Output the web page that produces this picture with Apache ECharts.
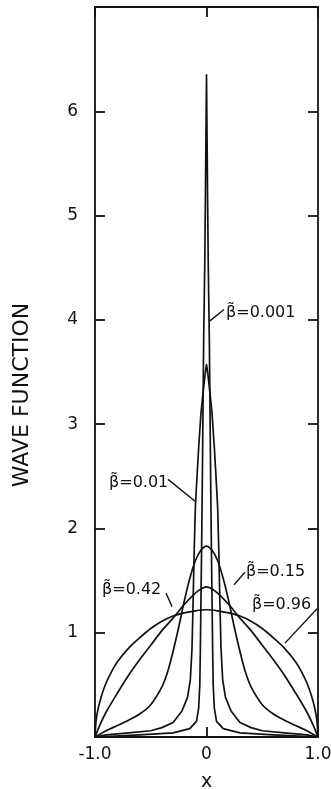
<!DOCTYPE html>
<html>
<head>
<meta charset="utf-8">
<script src="https://cdn.jsdelivr.net/npm/echarts@6/dist/echarts.min.js"></script>
<style>
  html, body { margin: 0; padding: 0; background: #fff; }
  #chart { width: 331px; height: 789px; }
</style>
</head>
<body>
<div id="chart"></div>
<script>
// Axis ticks
const xTickValues = [-1, 0, 1];
const xTickLabels = ['-1.0', '0', '1.0'];
const yTickValues = [1, 2, 3, 4, 5, 6];

// Wave function profiles, one pair of arrays per beta
const beta096X = [-1, -0.99, -0.97, -0.94, -0.9, -0.85, -0.8, -0.7, -0.6, -0.5, -0.4, -0.3, -0.2, -0.1, 0, 0.1, 0.2, 0.3, 0.4, 0.5, 0.6, 0.7, 0.8, 0.85, 0.9, 0.94, 0.97, 0.99, 1];
const beta096Y = [0, 0.16, 0.28, 0.4, 0.52, 0.63, 0.72, 0.85, 0.95, 1.04, 1.11, 1.16, 1.19, 1.21, 1.22, 1.21, 1.19, 1.16, 1.11, 1.04, 0.95, 0.85, 0.72, 0.63, 0.52, 0.4, 0.28, 0.16, 0];

const beta042X = [-1, -0.95, -0.9, -0.8, -0.7, -0.6, -0.5, -0.4, -0.3, -0.2, -0.1, -0.05, 0, 0.05, 0.1, 0.2, 0.3, 0.4, 0.5, 0.6, 0.7, 0.8, 0.9, 0.95, 1];
const beta042Y = [0, 0.13, 0.24, 0.42, 0.59, 0.74, 0.88, 1.02, 1.14, 1.27, 1.38, 1.42, 1.44, 1.42, 1.38, 1.27, 1.14, 1.02, 0.88, 0.74, 0.59, 0.42, 0.24, 0.13, 0];

const beta015X = [-1, -0.9, -0.8, -0.7, -0.6, -0.5, -0.4, -0.35, -0.3, -0.25, -0.2, -0.15, -0.1, -0.05, 0, 0.05, 0.1, 0.15, 0.2, 0.25, 0.3, 0.35, 0.4, 0.5, 0.6, 0.7, 0.8, 0.9, 1];
const beta015Y = [0, 0.06, 0.11, 0.16, 0.22, 0.31, 0.48, 0.62, 0.82, 1.05, 1.3, 1.52, 1.69, 1.79, 1.83, 1.79, 1.69, 1.52, 1.3, 1.05, 0.82, 0.62, 0.48, 0.31, 0.22, 0.16, 0.11, 0.06, 0];

const beta001X = [-1, -0.9, -0.7, -0.5, -0.4, -0.3, -0.22, -0.17, -0.145, -0.13, -0.12, -0.11, -0.1, -0.085, -0.07, -0.05, -0.025, -0.01, 0, 0.01, 0.025, 0.05, 0.07, 0.085, 0.1, 0.11, 0.12, 0.13, 0.145, 0.17, 0.22, 0.3, 0.4, 0.5, 0.7, 0.9, 1];
const beta001Y = [0, 0.02, 0.04, 0.06, 0.09, 0.14, 0.25, 0.38, 0.55, 0.85, 1.3, 1.8, 2.2, 2.5, 2.78, 3.1, 3.36, 3.5, 3.57, 3.5, 3.36, 3.1, 2.78, 2.5, 2.2, 1.8, 1.3, 0.85, 0.55, 0.38, 0.25, 0.14, 0.09, 0.06, 0.04, 0.02, 0];

const beta0001X = [-1, -0.6, -0.3, -0.15, -0.09, -0.07, -0.06, -0.055, -0.05, -0.044, -0.037, -0.03, -0.025, -0.02, -0.015, -0.01, -0.005, 0, 0.005, 0.01, 0.015, 0.02, 0.025, 0.03, 0.037, 0.044, 0.05, 0.055, 0.06, 0.07, 0.09, 0.15, 0.3, 0.6, 1];
const beta0001Y = [0, 0.02, 0.04, 0.08, 0.15, 0.28, 0.5, 0.85, 1.3, 1.8, 2.5, 3.3, 3.85, 4.2, 4.6, 5.15, 5.75, 6.35, 5.75, 5.15, 4.6, 4.2, 3.85, 3.3, 2.5, 1.8, 1.3, 0.85, 0.5, 0.28, 0.15, 0.08, 0.04, 0.02, 0];

const curveNames = ['β̃=0.001', 'β̃=0.01', 'β̃=0.15', 'β̃=0.42', 'β̃=0.96'];
// broad profiles are drawn smooth, the narrow peaks as straight segments
const curveSmooth = [false, false, 0.3, 0.3, 0.3];

const INK = '#111';
const FONT = 'DejaVu Sans';

function pairs(xs, ys) { return xs.map((x, i) => [x, ys[i]]); }

// Where each curve's tag sits and where its leader line runs (data units)
const tags = [
  { text: curveNames[0], at: [0.175, 4.07], lead: [[0.031, 3.99], [0.157, 4.10]] },
  { text: curveNames[1], at: [-0.874, 2.44], lead: [[-0.345, 2.47], [-0.103, 2.26]] },
  { text: curveNames[2], at: [0.354, 1.58], lead: [[0.247, 1.46], [0.345, 1.58]] },
  { text: curveNames[3], at: [-0.937, 1.41], lead: [[-0.363, 1.38], [-0.309, 1.25]] },
  { text: curveNames[4], at: [0.408, 1.27], lead: [[0.704, 0.90], [0.991, 1.23]] }
];

const curves = [
  pairs(beta0001X, beta0001Y),
  pairs(beta001X, beta001Y),
  pairs(beta015X, beta015Y),
  pairs(beta042X, beta042Y),
  pairs(beta096X, beta096Y)
];

const series = curves.map((data, i) => ({
  name: curveNames[i],
  type: 'line',
  data: data,
  showSymbol: false,
  smooth: curveSmooth[i],
  lineStyle: { color: INK, width: 1.7, join: 'round' },
  silent: true,
  markLine: {
    silent: true,
    symbol: ['none', 'none'],
    lineStyle: { color: INK, width: 1.4, type: 'solid' },
    label: { show: false },
    data: [[{ coord: tags[i].lead[0] }, { coord: tags[i].lead[1] }]]
  },
  markPoint: {
    silent: true,
    symbol: 'circle',
    symbolSize: 0,
    data: [{
      coord: tags[i].at,
      label: {
        show: true,
        position: 'right',
        distance: 0,
        formatter: tags[i].text,
        color: INK,
        fontFamily: FONT,
        fontSize: 16
      }
    }]
  }
}));

const frameLine = { show: true, onZero: false, lineStyle: { color: INK, width: 1.8 } };
const innerTick = { show: true, inside: true, length: 10, lineStyle: { color: INK, width: 1.8 } };

const chart = echarts.init(document.getElementById('chart'));
chart.setOption({
  animation: false,
  backgroundColor: '#fff',
  grid: { left: 95, right: 13, top: 7, bottom: 52, containLabel: false, outerBoundsMode: 'none' },
  xAxis: [
    {
      type: 'value', min: -1, max: 1, interval: 1, position: 'bottom',
      axisLine: frameLine, axisTick: innerTick, splitLine: { show: false },
      axisLabel: {
        color: INK, fontFamily: FONT, fontSize: 17, margin: 9,
        formatter: v => xTickLabels[xTickValues.indexOf(v)] ?? ''
      },
      name: 'x', nameLocation: 'middle', nameGap: 36,
      nameTextStyle: { color: INK, fontFamily: FONT, fontSize: 19 }
    },
    {
      type: 'value', min: -1, max: 1, interval: 1, position: 'top',
      axisLine: frameLine, axisTick: innerTick, splitLine: { show: false },
      axisLabel: { show: false }
    }
  ],
  yAxis: [
    {
      type: 'value', min: 0, max: 7, interval: 1, position: 'left',
      axisLine: frameLine, axisTick: innerTick, splitLine: { show: false },
      axisLabel: {
        color: INK, fontFamily: FONT, fontSize: 17, margin: 17,
        formatter: v => yTickValues.includes(v) ? String(v) : ''
      }
    },
    {
      type: 'value', min: 0, max: 7, interval: 1, position: 'right',
      axisLine: frameLine, axisTick: innerTick, splitLine: { show: false },
      axisLabel: { show: false }
    }
  ],
  graphic: [{
    type: 'text',
    x: 22, y: 395,
    rotation: Math.PI / 2,
    silent: true,
    style: {
      text: 'WAVE FUNCTION',
      fill: INK,
      font: '22px "DejaVu Sans"',
      align: 'center',
      verticalAlign: 'middle'
    }
  }],
  series: series
});
</script>
</body>
</html>
